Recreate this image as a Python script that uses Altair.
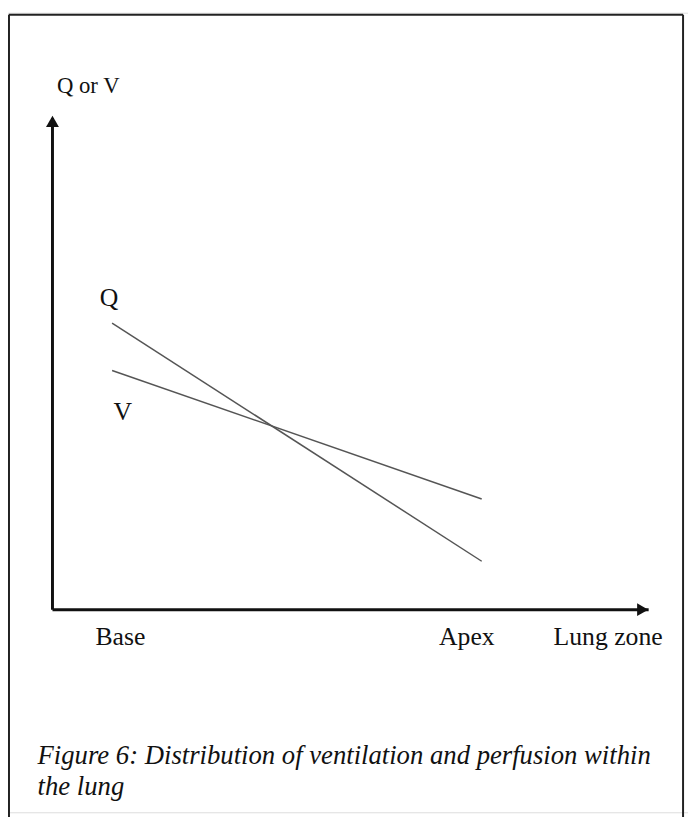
import altair as alt
import pandas as pd

# Data (schematic): lung zone position (Base -> Apex) and Q / V values
series = ["Q", "Q", "V", "V"]
zone_x = [1.0, 7.2, 1.0, 7.2]
level_y = [5.8, 0.98, 4.84, 2.24]

# axis arrows
axis_x = [0, 0, 0, 10]
axis_y = [0, 9.95, 0, 0]
axis_id = ["y", "y", "x", "x"]

# labels
label_text = ["Q or V", "Q", "V", "Base", "Apex", "Lung zone"]
label_x = [0.6, 0.95, 1.18, 1.14, 6.95, 9.32]
label_y = [10.45, 6.14, 3.84, -0.72, -0.72, -0.72]
label_size = [23, 26, 26, 26, 26, 26]

caption_lines = ["Figure 6: Distribution of ventilation and perfusion within", "the  lung"]
caption_x = [-0.25, -0.25]
caption_y = [-3.12, -3.74]

FONT = "Liberation Serif"

W, H = 688, 809
xs = alt.Scale(domain=[-0.746, 10.66], nice=False, zero=False)
ys = alt.Scale(domain=[-4.1, 12.08], nice=False, zero=False)

lines_df = pd.DataFrame({"series": series, "x": zone_x, "y": level_y})
axes_df = pd.DataFrame({"axis": axis_id, "x": axis_x, "y": axis_y})
labels_df = pd.DataFrame({"text": label_text, "x": label_x, "y": label_y, "size": label_size})
cap_df = pd.DataFrame({"text": caption_lines, "x": caption_x, "y": caption_y})
arrow_df = pd.DataFrame({"x": [0, 9.9], "y": [9.88, 0], "shape": ["triangle-up", "triangle-right"]})

X = lambda: alt.X("x:Q", scale=xs, axis=None)
Y = lambda: alt.Y("y:Q", scale=ys, axis=None)

frame = alt.Chart(pd.DataFrame({"k": [0]}))
frame_left = frame.mark_rule(color="#222", strokeWidth=2).encode(
    x=alt.value(1), y=alt.value(2), y2=alt.value(H + 20))
frame_top = frame.mark_rule(color="#222", strokeWidth=2).encode(
    x=alt.value(1), x2=alt.value(683), y=alt.value(2))
frame_right = frame.mark_rule(color="#222", strokeWidth=2).encode(
    x=alt.value(683), y=alt.value(2), y2=alt.value(H + 20))

axes = alt.Chart(axes_df).mark_line(color="#111", strokeWidth=3).encode(
    x=X(), y=Y(), detail="axis:N")

arrows = alt.Chart(arrow_df).mark_point(filled=True, color="#111", size=170, opacity=1).encode(
    x=X(), y=Y(), shape=alt.Shape("shape:N", scale=None))

lines = alt.Chart(lines_df).mark_line(color="#555", strokeWidth=1.5).encode(
    x=X(), y=Y(), detail="series:N")

labels = alt.Chart(labels_df).mark_text(font=FONT, color="#111", align="center", baseline="alphabetic").encode(
    x=X(), y=Y(), text="text:N", size=alt.Size("size:Q", scale=None))

caption = alt.Chart(cap_df).mark_text(font=FONT, fontSize=27, fontStyle="italic", color="#111", align="left", baseline="alphabetic").encode(
    x=X(), y=Y(), text="text:N")

chart = alt.layer(frame_left, frame_top, frame_right, axes, lines, arrows, labels, caption).properties(
    width=W, height=H, padding=0, autosize=alt.AutoSizeParams(type="none")
).configure_view(stroke=None).configure(background="white")

chart.save("out.html", embed_options={"renderer": "svg", "actions": False})
